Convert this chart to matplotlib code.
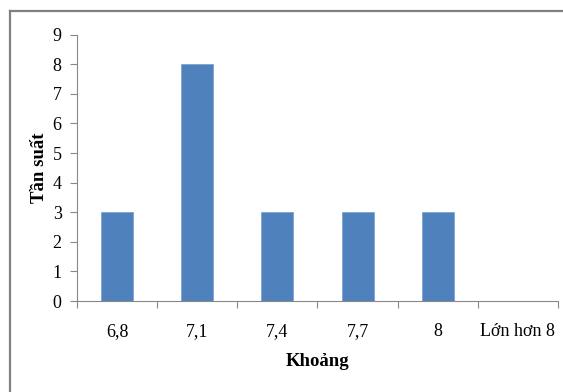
import matplotlib
matplotlib.use("Agg")
import matplotlib.pyplot as plt
from matplotlib.lines import Line2D
import numpy as np

categories = ["6,8", "7,1", "7,4", "7,7", "8", "Lớn hơn 8"]
frequencies = [3, 8, 3, 3, 3, 0]
y_ticks = [0, 1, 2, 3, 4, 5, 6, 7, 8, 9]

plt.rcParams['font.family'] = ['Liberation Serif', 'DejaVu Serif']

W, H = 563, 392
fig = plt.figure(figsize=(W / 100, H / 100), dpi=100)
left, right, bottom, top = 77, 558, 301, 34.7
ax = fig.add_axes([left / W, 1 - bottom / H, (right - left) / W, (bottom - top) / H])

x = np.arange(len(categories))
ax.bar(x, frequencies, width=0.4, color="#4F81BD", edgecolor="#7FA3D3", linewidth=0.6, zorder=2)

ax.set_xlim(-0.5, len(categories) - 0.5)
ax.set_ylim(0, 9)
ax.set_yticks(y_ticks)
ax.set_yticklabels([str(v) for v in y_ticks], fontsize=13)

# category labels centred, tick marks on the boundaries
ax.set_xticks(x)
ax.set_xticklabels(categories, fontsize=13)
ax.tick_params(axis='x', which='major', length=0, pad=16)
ax.set_xticks(np.arange(-0.5, len(categories)), minor=True)
ax.tick_params(axis='x', which='minor', length=5, color="#888888", width=0.8, direction='out')
ax.tick_params(axis='y', length=5, color="#888888", width=0.8, direction='out', pad=6)

for side in ("top", "right"):
    ax.spines[side].set_visible(False)
for side in ("left", "bottom"):
    ax.spines[side].set_color("#888888")
    ax.spines[side].set_linewidth(0.8)

ax.set_xlabel("Khoảng", fontsize=13.5, fontweight="bold", labelpad=9)
ax.set_ylabel("Tần suất", fontsize=13.5, fontweight="bold", labelpad=3)

# chart-area border along the top and left edges
fig.add_artist(Line2D([9.5 / W, 9.5 / W], [0, 1 - 11 / H], transform=fig.transFigure,
                      color="#808080", linewidth=1.6))
fig.add_artist(Line2D([9.5 / W, 1], [1 - 11 / H, 1 - 11 / H], transform=fig.transFigure,
                      color="#808080", linewidth=1.6))

fig.savefig("out.png", dpi=100)
